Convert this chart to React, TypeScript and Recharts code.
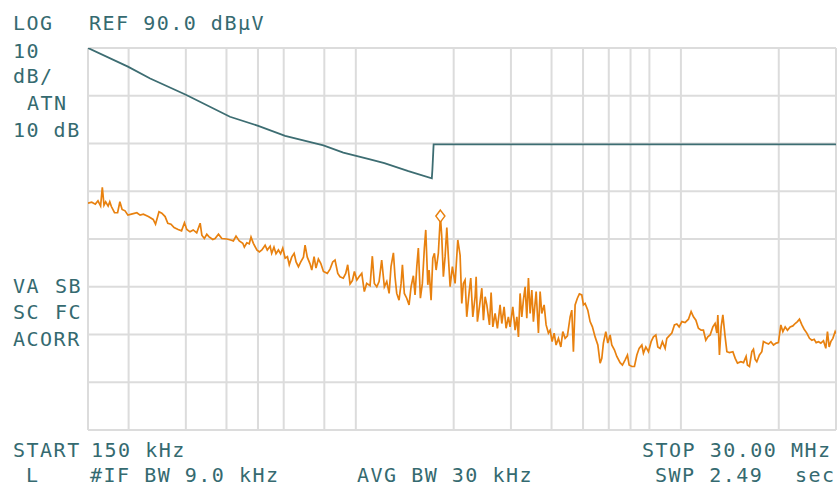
import { ComposedChart, Line, XAxis, YAxis, CartesianGrid, ReferenceDot } from "recharts";

// frequencies in MHz, levels in dBµV
const traceFreqMHz = [
  0.15, 0.154, 0.158, 0.161, 0.164, 0.166, 0.168, 0.17, 0.173, 0.175, 0.177, 0.181, 0.185, 0.188, 0.191, 0.195,
  0.199, 0.204, 0.212, 0.217, 0.222, 0.23, 0.238, 0.242, 0.248, 0.253, 0.259, 0.264, 0.27, 0.276, 0.284, 0.291,
  0.297, 0.302, 0.309, 0.316, 0.324, 0.332, 0.336, 0.342, 0.348, 0.353, 0.363, 0.369, 0.378, 0.387, 0.401, 0.412,
  0.42, 0.428, 0.438, 0.449, 0.454, 0.462, 0.47, 0.476, 0.484, 0.496, 0.505, 0.514, 0.526, 0.534, 0.545, 0.551,
  0.56, 0.568, 0.578, 0.587, 0.596, 0.606, 0.616, 0.624, 0.635, 0.646, 0.655, 0.666, 0.677, 0.69, 0.698, 0.709,
  0.723, 0.732, 0.744, 0.754, 0.767, 0.78, 0.795, 0.817, 0.833, 0.849, 0.863, 0.88, 0.894, 0.915, 0.931, 0.944,
  0.96, 0.976, 0.99, 1.007, 1.023, 1.043, 1.062, 1.08, 1.106, 1.124, 1.14, 1.16, 1.179, 1.201, 1.224, 1.245,
  1.266, 1.283, 1.305, 1.32, 1.336, 1.358, 1.378, 1.391, 1.41, 1.434, 1.458, 1.479, 1.503, 1.521, 1.54, 1.557,
  1.58, 1.602, 1.625, 1.641, 1.665, 1.68, 1.704, 1.725, 1.745, 1.766, 1.794, 1.82, 1.838, 1.859, 1.882, 1.905,
  1.926, 1.95, 1.982, 2.02, 2.059, 2.093, 2.118, 2.142, 2.168, 2.194, 2.235, 2.257, 2.29, 2.328, 2.345, 2.366,
  2.4, 2.441, 2.469, 2.499, 2.529, 2.577, 2.607, 2.639, 2.682, 2.726, 2.778, 2.812, 2.858, 2.899, 2.946, 2.982,
  3.04, 3.09, 3.128, 3.164, 3.201, 3.24, 3.277, 3.317, 3.357, 3.396, 3.437, 3.478, 3.518, 3.587, 3.645, 3.689,
  3.733, 3.795, 3.849, 3.912, 3.96, 4.017, 4.074, 4.131, 4.2, 4.272, 4.332, 4.404, 4.476, 4.563, 4.617, 4.67,
  4.727, 4.803, 4.872, 4.956, 5.013, 5.073, 5.171, 5.256, 5.343, 5.446, 5.552, 5.643, 5.711, 5.775, 5.875, 5.958,
  6.057, 6.129, 6.243, 6.351, 6.501, 6.609, 6.737, 6.848, 6.93, 7.064, 7.196, 7.32, 7.44, 7.583, 7.669, 7.8,
  7.946, 8.099, 8.232, 8.374, 8.492, 8.631, 8.773, 8.943, 9.05, 9.2, 9.378, 9.552, 9.716, 9.876, 10.07, 10.3,
  10.55, 10.75, 10.93, 11.12, 11.32, 11.54, 11.73, 11.93, 12.1, 12.3, 12.54, 12.74, 12.9, 12.99, 13.14, 13.3,
  13.46, 13.68, 13.85, 14.1, 14.45, 14.69, 14.93, 15.29, 15.58, 15.87, 16.02, 16.25, 16.53, 16.72, 16.92, 17.12,
  17.44, 17.74, 17.94, 18.3, 18.6, 18.92, 19.27, 19.64, 19.95, 20.3, 20.59, 20.93, 21.27, 21.68, 22.1, 22.46,
  22.83, 23.16, 23.56, 23.94, 24.4, 24.86, 25.29, 25.7, 26.07, 26.5, 26.95, 27.45, 27.91, 28.24, 28.58, 28.92,
  29.34, 29.82, 30.0,
];

const traceLevel = [
  57.5, 57.7, 57.3, 58.0, 56.9, 60.8, 57.1, 57.8, 56.9, 57.8, 56.8, 55.5, 55.5, 57.8, 56.2, 55.9,
  55.0, 55.2, 55.5, 55.0, 55.2, 54.7, 54.1, 53.1, 55.7, 55.4, 54.7, 53.3, 53.1, 52.4, 52.0, 51.7,
  53.4, 52.0, 51.5, 51.9, 51.3, 53.3, 50.8, 50.1, 51.0, 50.5, 49.9, 50.1, 51.0, 50.1, 50.0, 49.8,
  49.6, 50.6, 49.6, 49.1, 48.3, 49.2, 49.0, 50.4, 49.1, 47.7, 47.3, 47.7, 48.7, 47.7, 48.5, 47.0,
  48.3, 46.9, 47.7, 46.9, 48.1, 46.0, 46.3, 44.6, 46.2, 47.0, 45.2, 44.2, 45.2, 46.2, 48.7, 46.2,
  44.8, 43.5, 46.3, 43.9, 45.8, 44.9, 43.2, 42.8, 43.7, 45.2, 45.6, 42.8, 42.1, 41.8, 42.8, 44.6,
  40.6, 41.3, 43.2, 41.4, 42.1, 42.8, 39.0, 40.7, 40.2, 46.4, 40.7, 40.0, 41.1, 45.6, 40.0, 41.1,
  38.6, 44.2, 47.1, 42.1, 38.6, 37.2, 40.7, 44.6, 38.6, 37.6, 36.2, 40.0, 42.3, 38.3, 44.2, 48.1,
  37.6, 40.7, 48.1, 51.9, 40.4, 43.5, 37.2, 46.0, 47.0, 43.5, 47.0, 54.8, 50.5, 42.1, 46.3, 52.4,
  46.3, 40.0, 44.2, 40.7, 49.8, 46.6, 36.5, 40.7, 41.4, 33.7, 39.3, 41.8, 33.7, 37.9, 42.1, 32.7,
  35.8, 39.7, 33.0, 37.9, 36.2, 32.0, 38.8, 31.6, 34.4, 31.3, 36.2, 32.3, 35.8, 31.3, 33.7, 31.6,
  35.8, 30.9, 33.7, 29.5, 38.6, 33.7, 37.2, 40.0, 33.4, 41.8, 34.4, 39.3, 32.7, 39.0, 30.3, 39.0,
  34.4, 36.2, 32.0, 30.3, 30.9, 28.5, 30.3, 27.8, 29.2, 27.4, 30.6, 29.2, 29.7, 33.7, 35.1, 26.4,
  36.2, 37.6, 38.5, 38.3, 36.2, 36.5, 35.1, 32.7, 31.6, 29.5, 27.8, 24.0, 25.0, 28.2, 30.6, 28.2,
  29.9, 27.8, 26.8, 25.4, 24.1, 23.6, 24.7, 25.7, 23.6, 23.3, 23.3, 25.7, 27.1, 27.8, 26.1, 27.4,
  26.4, 28.5, 29.5, 29.9, 27.4, 27.1, 28.5, 27.1, 29.2, 29.7, 30.3, 32.0, 32.2, 31.6, 32.7, 32.5,
  33.2, 34.8, 33.7, 33.0, 31.3, 30.9, 30.9, 28.8, 29.5, 29.9, 31.6, 32.3, 30.3, 34.1, 25.7, 31.6,
  34.1, 29.5, 26.4, 26.2, 26.4, 25.0, 24.0, 24.3, 24.1, 25.4, 23.6, 23.3, 26.4, 26.9, 24.8, 24.3,
  25.7, 26.4, 28.5, 28.2, 28.0, 28.5, 27.8, 28.2, 28.3, 32.0, 30.6, 31.6, 30.9, 31.6, 31.8, 32.3,
  32.7, 33.2, 32.0, 31.1, 30.3, 29.2, 28.8, 29.0, 28.3, 28.5, 28.2, 28.7, 27.1, 30.6, 27.4, 28.5,
  29.2, 30.6, 30.2,
];

const limitFreqMHz = [
  0.15, 0.199, 0.233, 0.3, 0.41, 0.501, 0.606, 0.795, 0.915, 1.106, 1.224, 1.451, 1.713, 1.72, 1.735, 30.0,
];
const limitLevel = [
  90, 86.1, 83.6, 80.2, 75.6, 73.7, 71.6, 69.6, 68.1, 66.7, 65.9, 64.2, 62.7, 64.5, 69.8, 69.8,
];

const xTicks = [0.15, 0.2, 0.3, 0.4, 0.5, 0.6, 0.7, 0.8, 0.9, 1, 2, 3, 4, 5, 6, 7, 8, 9, 10, 20, 30];
const yTicks = [10, 20, 30, 40, 50, 60, 70, 80, 90];

const markerFreqMHz = 1.82;
const markerLevel = 54.8;

const traceData = traceFreqMHz.map((f, i) => ({ f, v: traceLevel[i] }));
const limitData = limitFreqMHz.map((f, i) => ({ f, v: limitLevel[i] }));

const ORANGE = "#e8810f";
const TEAL = "#3d6d72";
const TEXT = "#356a70";

const Diamond = (props: { cx?: number; cy?: number }) => {
  const { cx = 0, cy = 0 } = props;
  return (
    <path
      d={`M${cx},${cy - 6} L${cx + 4.5},${cy} L${cx},${cy + 6} L${cx - 4.5},${cy} Z`}
      fill="#fff"
      stroke={ORANGE}
      strokeWidth={1.5}
    />
  );
};

const labels: { t: string; x: number; y: number }[] = [
  { t: "LOG", x: 13, y: 30 },
  { t: "REF 90.0 dBμV", x: 89, y: 30 },
  { t: "10", x: 13, y: 58 },
  { t: "dB/", x: 13, y: 83 },
  { t: "ATN", x: 27, y: 110 },
  { t: "10 dB", x: 13, y: 137 },
  { t: "VA", x: 13, y: 293 },
  { t: "SB", x: 55, y: 293 },
  { t: "SC", x: 13, y: 319 },
  { t: "FC", x: 55, y: 319 },
  { t: "ACORR", x: 13, y: 346 },
  { t: "START", x: 13, y: 457 },
  { t: "150 kHz", x: 91, y: 457 },
  { t: "L", x: 26, y: 482 },
  { t: "#IF BW 9.0 kHz", x: 90, y: 482 },
  { t: "AVG BW 30 kHz", x: 357, y: 482 },
  { t: "STOP 30.00 MHz", x: 642, y: 457 },
  { t: "SWP 2.49", x: 655, y: 482 },
  { t: "sec", x: 795, y: 482 },
];

export default function App() {
  return (
    <div style={{ position: "absolute", left: 0, top: 0, width: 838, height: 488, background: "#fff" }}>
      <ComposedChart width={838} height={488} margin={{ top: 48, right: 2, left: 88, bottom: 58 }}>
        <XAxis
          dataKey="f"
          type="number"
          scale="log"
          domain={[0.15, 30]}
          ticks={xTicks}
          allowDataOverflow
          hide
        />
        <YAxis type="number" domain={[10, 90]} ticks={yTicks} allowDataOverflow hide />
        <CartesianGrid stroke="#dcdcdc" strokeWidth={2} />
        <Line
          data={limitData}
          dataKey="v"
          type="linear"
          stroke={TEAL}
          strokeWidth={1.8}
          dot={false}
          isAnimationActive={false}
        />
        <Line
          data={traceData}
          dataKey="v"
          type="linear"
          stroke={ORANGE}
          strokeWidth={1.7}
          dot={false}
          isAnimationActive={false}
        />
        <ReferenceDot x={markerFreqMHz} y={markerLevel} r={6} shape={<Diamond />} />
      </ComposedChart>
      <svg
        width={838}
        height={488}
        style={{ position: "absolute", left: 0, top: 0, pointerEvents: "none" }}
      >
        {labels.map((l) => (
          <text
            key={l.t + l.x + l.y}
            x={l.x}
            y={l.y}
            fill={TEXT}
            fontFamily="'DejaVu Sans Mono', monospace"
            fontSize={20}
            letterSpacing={1.5}
          >
            {l.t}
          </text>
        ))}
      </svg>
    </div>
  );
}
